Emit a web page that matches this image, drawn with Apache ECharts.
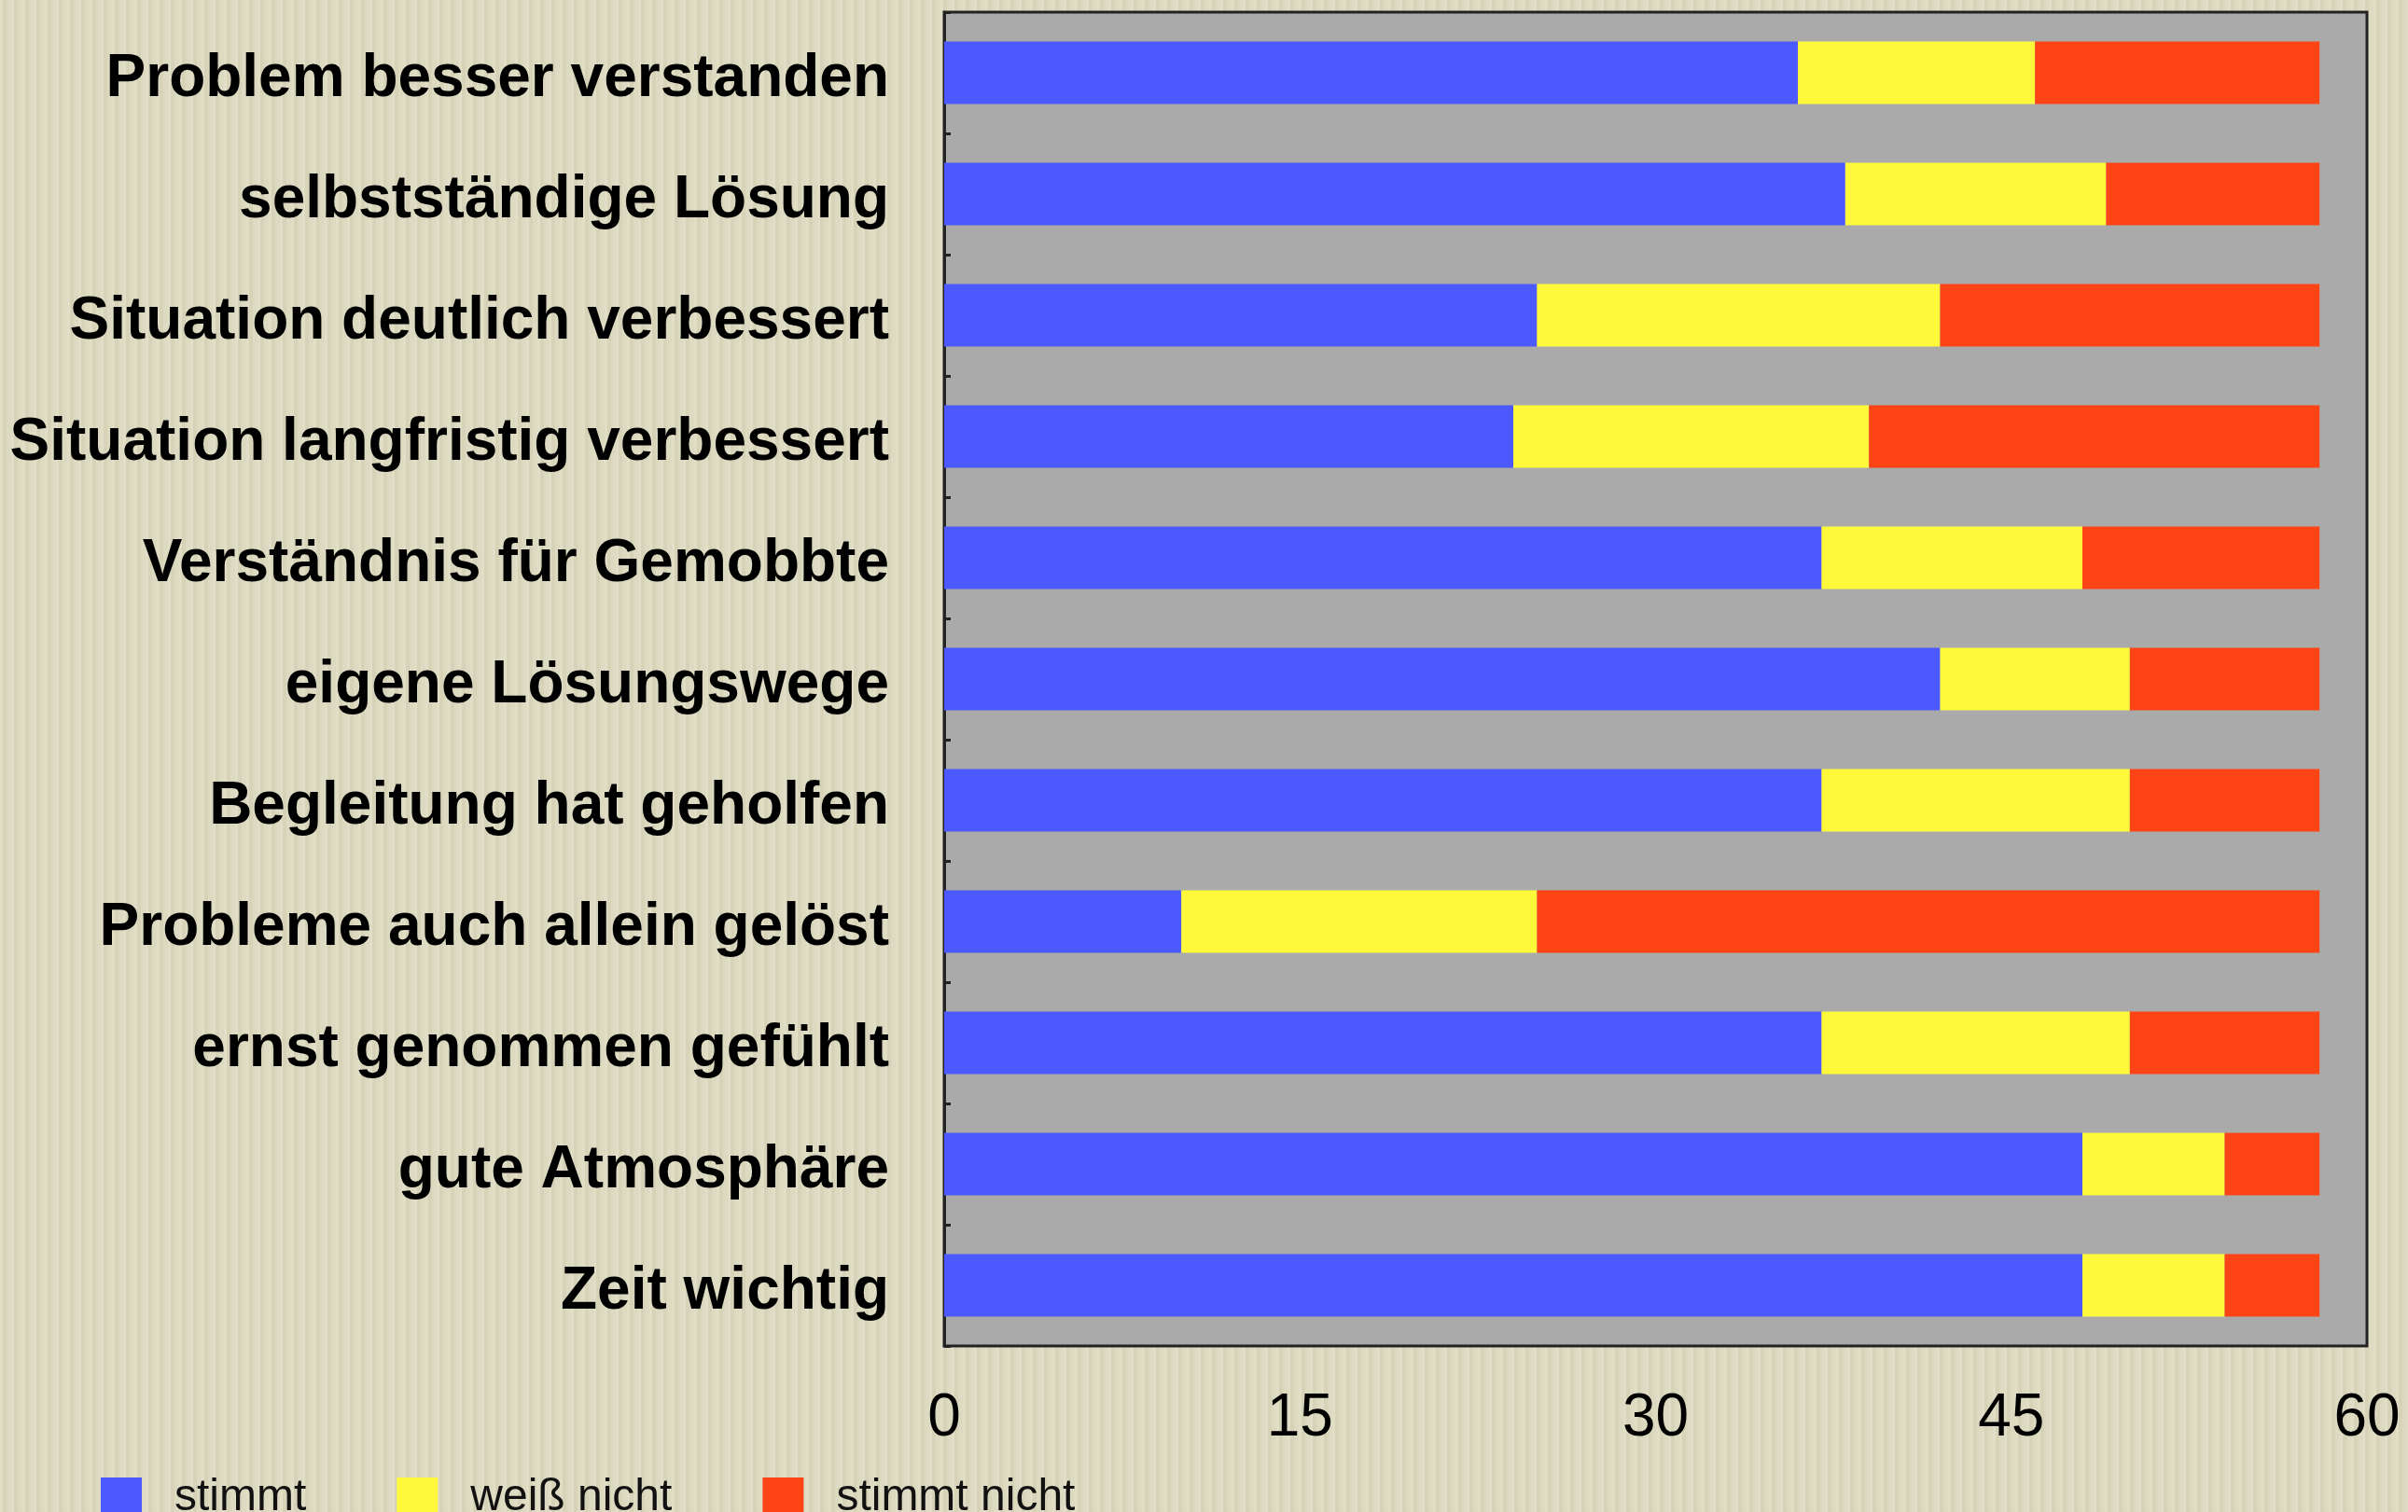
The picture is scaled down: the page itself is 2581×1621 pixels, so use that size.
<!DOCTYPE html>
<html>
<head>
<meta charset="utf-8">
<script src="https://cdn.jsdelivr.net/npm/echarts@6/dist/echarts.min.js"></script>
<style>
html,body{margin:0;padding:0;width:2581px;height:1621px;overflow:hidden;
background-color:#dad7bd;
background-image:repeating-linear-gradient(90deg, rgba(255,255,240,0.18) 0px, rgba(255,255,240,0.18) 3px, rgba(180,175,140,0.10) 3px, rgba(180,175,140,0.10) 7px, rgba(255,255,255,0.08) 7px, rgba(255,255,255,0.08) 12px);}
#chart{width:2581px;height:1621px;}
</style>
</head>
<body>
<div id="chart"></div>
<script>
const categories = [
  "Problem besser verstanden",
  "selbstständige Lösung",
  "Situation deutlich verbessert",
  "Situation langfristig verbessert",
  "Verständnis für Gemobbte",
  "eigene Lösungswege",
  "Begleitung hat geholfen",
  "Probleme auch allein gelöst",
  "ernst genommen gefühlt",
  "gute Atmosphäre",
  "Zeit wichtig"
];
const stimmt      = [36, 38, 25, 24, 37, 42, 37, 10, 37, 48, 48];
const weissNicht  = [10, 11, 17, 15, 11,  8, 13, 15, 13,  6,  6];
const stimmtNicht = [12,  9, 16, 19, 10,  8,  8, 33,  8,  4,  4];
const seriesNames = ["stimmt", "weiß nicht", "stimmt nicht"];
const xTicks = [0, 15, 30, 45, 60];

const colors = ["#4b59fe", "#fef93b", "#fe4314"];
const chart = echarts.init(document.getElementById('chart'), null, {renderer:'canvas'});
const dataSets = [stimmt, weissNicht, stimmtNicht];
chart.setOption({
  backgroundColor: 'transparent',
  animation: false,
  grid: {
    left: 1012, top: 13, right: 44, bottom: 178,
    show: true, backgroundColor: '#aaaaaa', borderColor: '#222222', borderWidth: 3
  },
  legend: {
    left: 103, top: 1577,
    itemWidth: 44, itemHeight: 44, itemGap: 97,
    icon: 'rect',
    textStyle: { fontFamily: 'Liberation Sans', fontSize: 48, color: '#111', padding: [0,0,0,30] },
    data: seriesNames
  },
  xAxis: {
    type: 'value', min: xTicks[0], max: xTicks[xTicks.length-1], interval: 15,
    axisLine: { show: false },
    axisTick: { show: false },
    splitLine: { show: false },
    axisLabel: { fontFamily: 'Liberation Sans', fontSize: 64, color: '#000', margin: 46 }
  },
  yAxis: {
    type: 'category', inverse: true, data: categories,
    axisLine: { show: true, lineStyle: { color: '#222', width: 3 } },
    axisTick: { show: true, inside: true, length: 7, lineStyle: { color: '#222', width: 3 } },
    axisLabel: {
      margin: 59,
      formatter: v => '{a|' + v + '}',
      rich: { a: { fontFamily: 'Liberation Sans', fontWeight: 'bold', fontSize: 64, color: '#000', padding: [14, 0, 0, 0] } }
    }
  },
  series: dataSets.map((d, i) => ({
    name: seriesNames[i], type: 'bar', stack: 'total', barWidth: 67,
    itemStyle: { color: colors[i] },
    data: d
  }))
});
</script>
</body>
</html>
